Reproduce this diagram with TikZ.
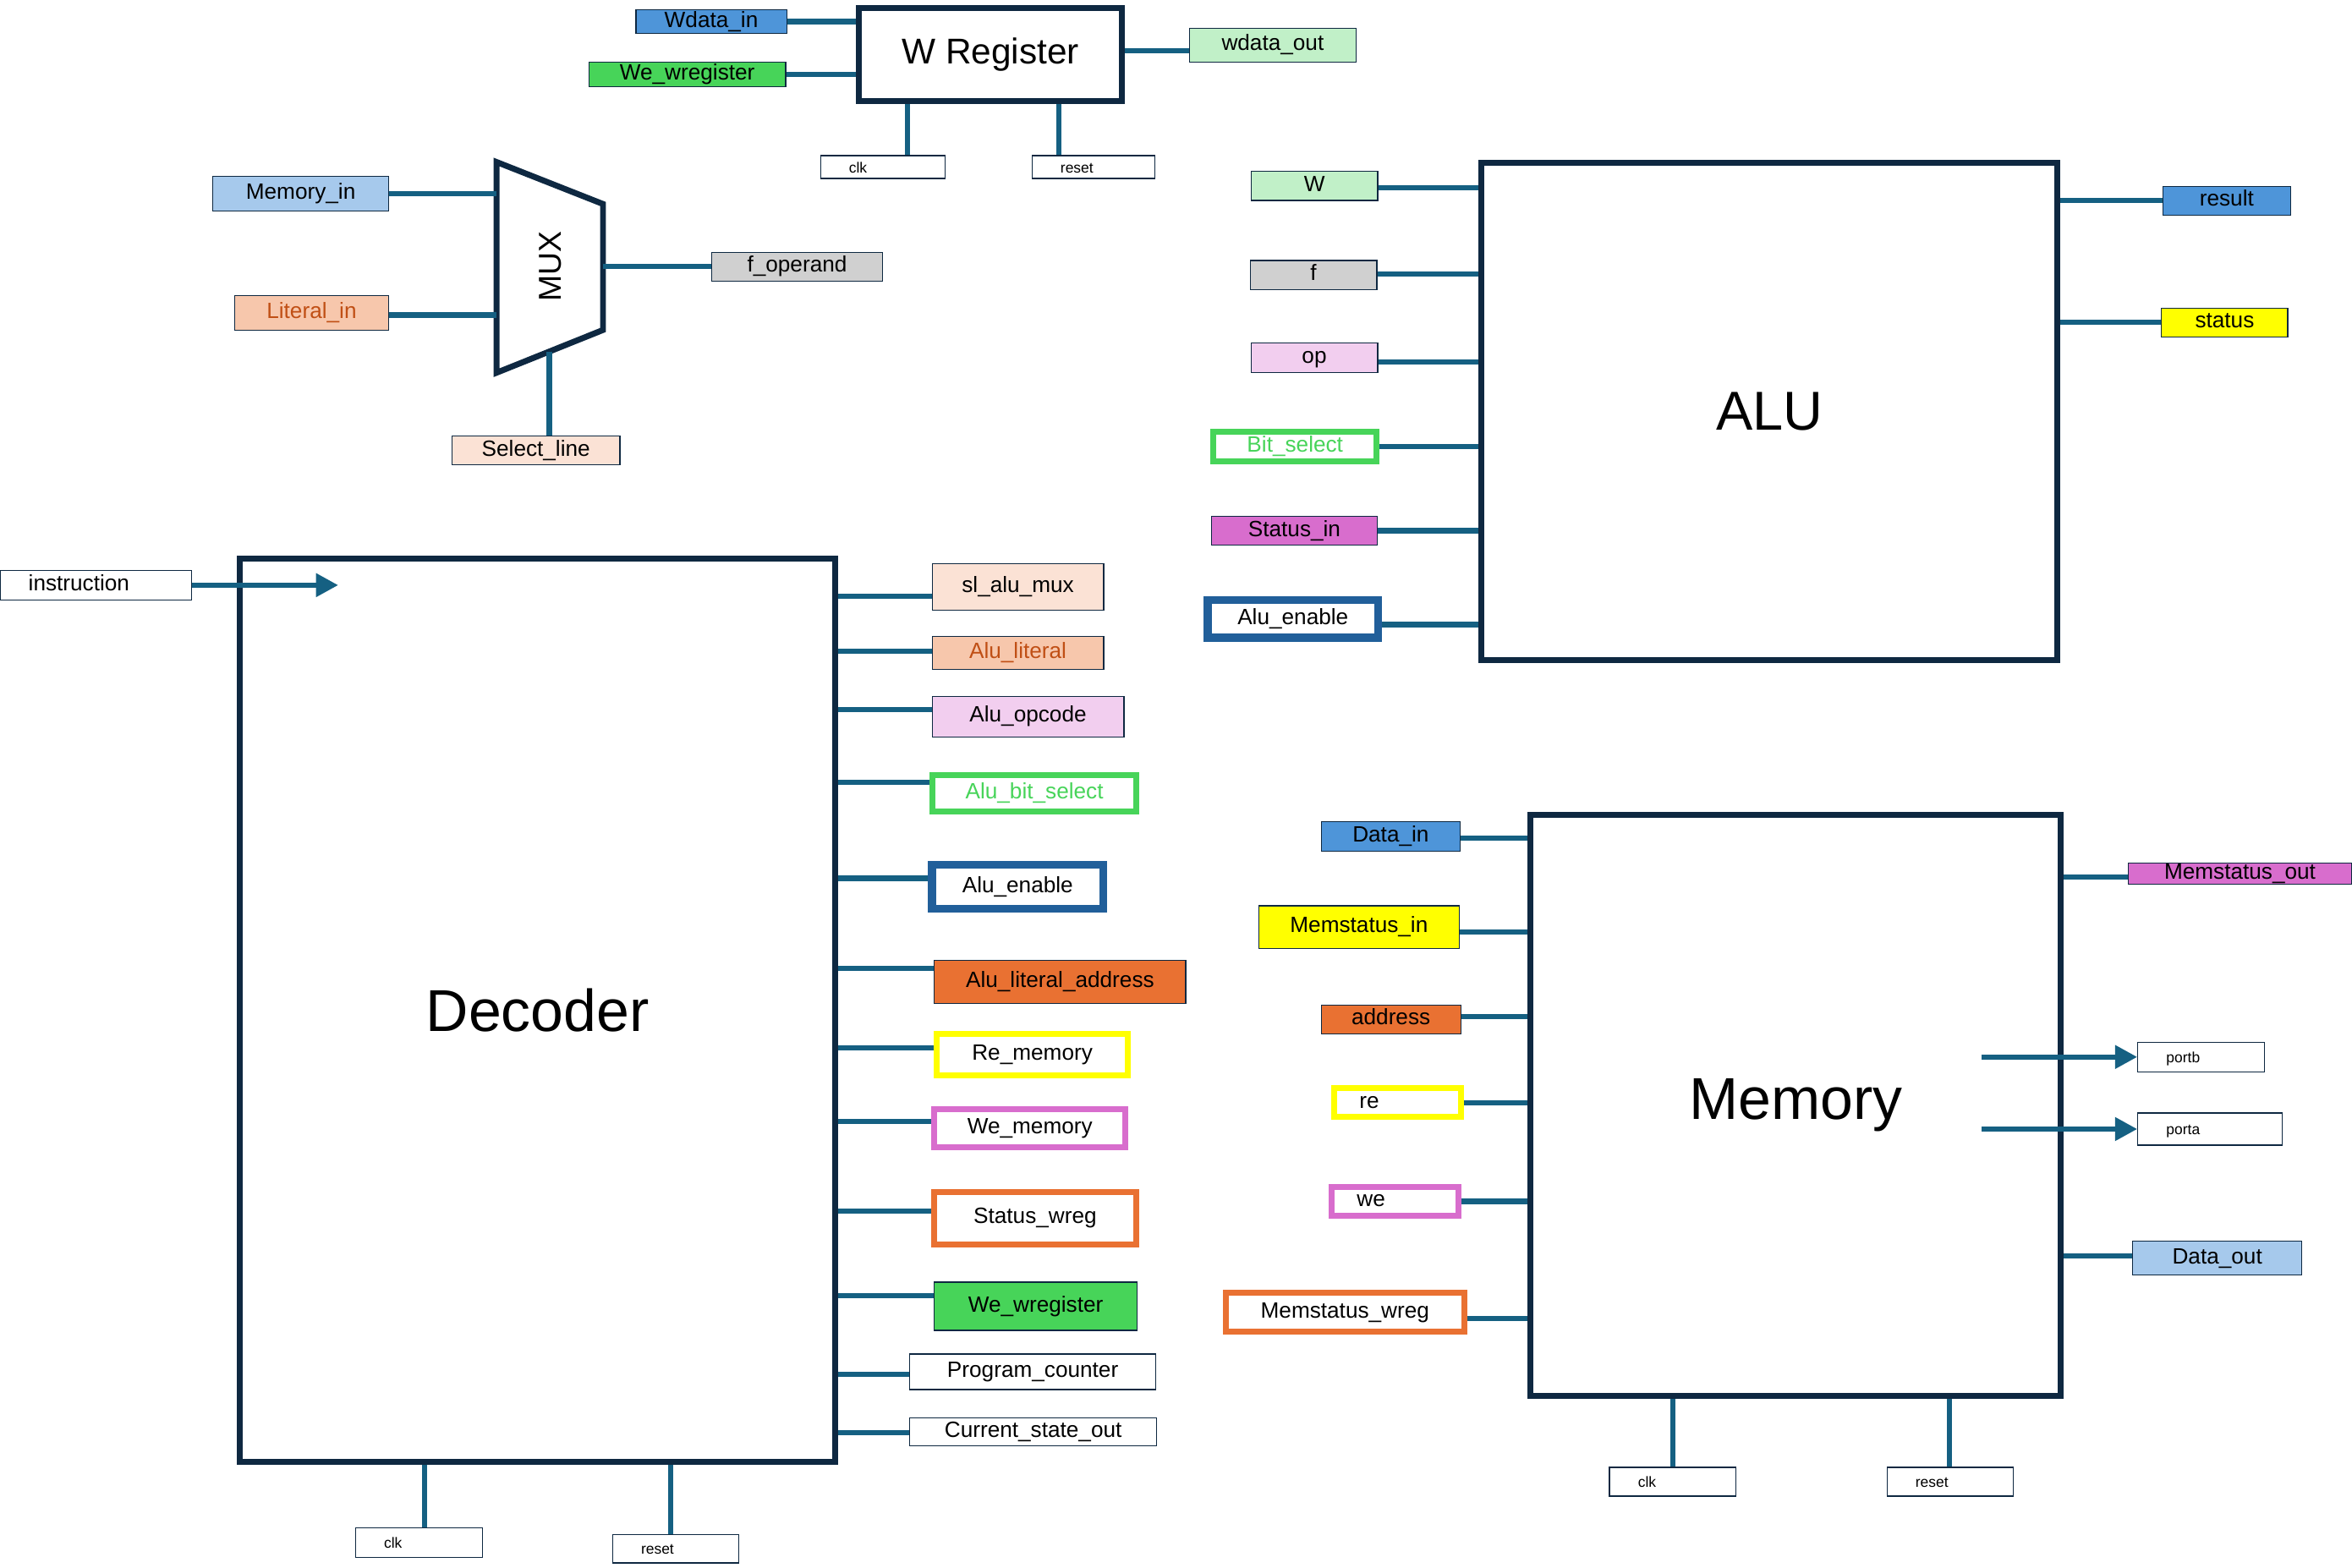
\documentclass[tikz,border=0pt]{standalone}
\usepackage{fontspec}
\setmainfont{Liberation Sans}
\usetikzlibrary{arrows.meta}

\definecolor{boxc}{HTML}{0E2841}
\definecolor{wirec}{HTML}{156082}
\definecolor{blu}{HTML}{4E95D9}
\definecolor{ltblu}{HTML}{A6C9EC}
\definecolor{enblu}{HTML}{215F9A}
\definecolor{grn}{HTML}{47D459}
\definecolor{ltgrn}{HTML}{C1F0C8}
\definecolor{gry}{HTML}{D0D0D0}
\definecolor{pnk}{HTML}{F2CEEF}
\definecolor{mag}{HTML}{D86DCD}
\definecolor{pch}{HTML}{F7C7AC}
\definecolor{ltpch}{HTML}{FBE2D5}
\definecolor{org}{HTML}{E97132}
\definecolor{dkorg}{HTML}{C04F15}
\definecolor{ylw}{HTML}{FFFF00}

\newcommand{\lblfont}{\fontsize{10.5}{12}\selectfont}
\newcommand{\tinyfont}{\fontsize{7}{8}\selectfont}
\newcommand{\bigfont}{\fontsize{28}{32}\selectfont}

\tikzset{
  blk/.style={draw=boxc,line width=2.8pt,inner sep=0pt},
  wire/.style={draw=wirec,line width=2.5pt},
  arr/.style={wire,-{Triangle[length=3.7mm,width=3.75mm]}},
  sz/.style 2 args={minimum width=#1*0.25mm,minimum height=#2*0.25mm},
  sig/.style={draw=boxc,line width=0.5pt,inner sep=0pt,font=\lblfont,
    text height=0.72em,text depth=0.2em},
  sigthk/.style={sig,fill=white,line width=2.8pt},
  tagl/.style={draw=boxc,line width=0.5pt,fill=white,inner ysep=0pt,
    inner xsep=4.75mm,align=left,text width=#1,text height=0.72em,text depth=0.2em},
}

\begin{document}
\begin{tikzpicture}[x=0.25mm,y=-0.25mm]
    \useasboundingbox (0,0) rectangle (1568,1044.8);

    %% W register
    \node (wreg) at (660.4,36.3) [blk,sz={175.3}{62},font=\fontsize{17}{20}\selectfont] {W Register};
    \node (wdin) at (474.2,14.4) [sig,fill=blu,sz={100.5}{15.6}] {Wdata\_in};
    \node (wewr) at (458.2,49.6) [sig,fill=grn,sz={131.2}{16.3}] {We\_wregister};
    \node (wdout) at (848.5,30.1) [sig,fill=ltgrn,sz={110.9}{22.6}] {wdata\_out};
    \node (wclk) at (588.5,111.4) [tagl=11.25mm,font=\tinyfont,minimum height=15.2*0.25mm] {clk};
    \node (wrst) at (729,111.4) [tagl=11mm,font=\tinyfont,minimum height=15.2*0.25mm] {reset};

    \draw[wire] (wdin.east) -- (wdin.east -| wreg.west);
    \draw[wire] (wewr.east) -- (wewr.east -| wreg.west);
    \draw[wire] (wreg.east |- 0,33.8) -- (wdout.west |- 0,33.8);
    \draw[wire] (wreg.south -| 605,0) -- (wclk.north -| 605,0);
    \draw[wire] (wreg.south -| 706,0) -- (wrst.north -| 706,0);

    %% MUX
    \coordinate (mtl) at (331,108);
    \coordinate (mtr) at (402,136);
    \coordinate (mbr) at (402,220);
    \coordinate (mbl) at (331,248.5);
    \coordinate (msel) at (366.2,234.4);
    \draw[boxc,line width=2.8pt] (mtl) -- (mtr) -- (mbr) -- (mbl) -- cycle;
    \node (muxt) at (366.8,177.8) [rotate=90,font=\fontsize{15}{18}\selectfont] {MUX};

    \node (memin) at (200.5,129) [sig,fill=ltblu,sz={117}{23.1}] {Memory\_in};
    \node (litin) at (207.75,208.5) [sig,fill=pch,text=dkorg,sz={102.5}{23}] {Literal\_in};
    \node (fop) at (531.4,177.8) [sig,fill=gry,sz={114}{19.2}] {f\_operand};
    \node (sel) at (357.3,300.35) [sig,fill=ltpch,sz={112}{19.3}] {Select\_line};

    \draw[wire] (memin.east) -- (memin.east -| mtl);
    \draw[wire] (litin.east |- 0,210) -- (mtl |- 0,210);
    \draw[wire] (fop.west) -- (fop.west -| mtr);
    \draw[wire] (msel) -- (msel |- sel.north);

    %% ALU
    \node (alu) at (1179.55,274.4) [blk,sz={384.3}{331.2},font=\fontsize{26}{30}\selectfont] {ALU};
    \node (aw) at (876.35,123.95) [sig,fill=ltgrn,sz={84.1}{19.5}] {W};
    \node (af) at (875.65,183.35) [sig,fill=gry,sz={84.5}{19.5}] {f};
    \node (aop) at (876.2,238.45) [sig,fill=pnk,sz={84.4}{19.5}] {op};
    \node (bsel) at (863.35,297.65) [sigthk,draw=grn,text=grn,sz={108.9}{19.5}] {Bit\_select};
    \node (stin) at (862.9,353.85) [sig,fill=mag,sz={110.2}{19.1}] {Status\_in};
    \node (aen) at (861.95,412.7) [sigthk,draw=enblu,line width=3.9pt,sz={113.7}{25.2}] {Alu\_enable};
    \node (res) at (1484.45,133.8) [sig,fill=blu,sz={84.9}{19.2}] {result};
    \node (stat) at (1483.1,214.95) [sig,fill=ylw,sz={84.2}{19.1}] {status};

    \draw[wire] (aw.east |- 0,125.2) -- (alu.west |- 0,125.2);
    \draw[wire] (af.east |- 0,182.7) -- (alu.west |- 0,182.7);
    \draw[wire] (aop.east |- 0,241.4) -- (alu.west |- 0,241.4);
    \draw[wire] (bsel.east) -- (bsel.east -| alu.west);
    \draw[wire] (stin.east) -- (stin.east -| alu.west);
    \draw[wire] (aen.east |- 0,416.4) -- (alu.west |- 0,416.4);
    \draw[wire] (alu.east |- res.west) -- (res.west);
    \draw[wire] (alu.east |- stat.west) -- (stat.west);

    %% Decoder
    \node (dec) at (358.35,673.45) [blk,sz={397.3}{601.9},font=\bigfont] {Decoder};
    \node (inst) at (63.9,390.1) [tagl=22.45mm,font=\lblfont,minimum height=19.8*0.25mm] {instruction};
    \coordinate (itip) at (inst.east -| 225.5,0);
    \draw[arr] (inst.east) -- (itip);

    %% decoder outputs
    \node (slm) at (678.6,391.2) [sig,fill=ltpch,sz={114.4}{31}] {sl\_alu\_mux};
    \node (alit) at (678.6,435.15) [sig,fill=pch,text=dkorg,sz={114.4}{21.9}] {Alu\_literal};
    \node (aopc) at (685.35,477.75) [sig,fill=pnk,sz={127.9}{26.9}] {Alu\_opcode};
    \node (abs) at (689.6,529) [sigthk,draw=grn,text=grn,sz={136.2}{24.4}] {Alu\_bit\_select};
    \node (den) at (678.45,591.2) [sigthk,draw=enblu,line width=3.9pt,sz={114.2}{29.3}] {Alu\_enable};
    \node (ala) at (706.7,654.6) [sig,fill=org,sz={167.6}{28.6}] {Alu\_literal\_address};
    \node (rem) at (688.2,703.1) [sigthk,draw=ylw,sz={127.6}{27.6}] {Re\_memory};
    \node (wem) at (686.6,752.15) [sigthk,draw=mag,sz={127.6}{25.3}] {We\_memory};
    \node (swr) at (690.05,812.05) [sigthk,draw=org,sz={134.5}{34.9}] {Status\_wreg};
    \node (wew) at (690.45,870.85) [sig,fill=grn,sz={135.1}{32.1}] {We\_wregister};
    \node (pc) at (688.5,914.55) [sig,fill=white,sz={163.8}{23.7}] {Program\_counter};
    \node (cso) at (688.8,954.6) [sig,fill=white,sz={164.4}{18.8}] {Current\_state\_out};

    \draw[wire] (dec.east |- 0,397.6) -- (slm.west |- 0,397.6);
    \draw[wire] (dec.east |- 0,434.3) -- (alit.west |- 0,434.3);
    \draw[wire] (dec.east |- 0,473.1) -- (aopc.west |- 0,473.1);
    \draw[wire] (dec.east |- 0,521.4) -- (abs.west |- 0,521.4);
    \draw[wire] (dec.east |- 0,585.5) -- (den.west |- 0,585.5);
    \draw[wire] (dec.east |- 0,645.7) -- (ala.west |- 0,645.7);
    \draw[wire] (dec.east |- 0,698.6) -- (rem.west |- 0,698.6);
    \draw[wire] (dec.east |- 0,747.5) -- (wem.west |- 0,747.5);
    \draw[wire] (dec.east |- 0,807.4) -- (swr.west |- 0,807.4);
    \draw[wire] (dec.east |- 0,863.6) -- (wew.west |- 0,863.6);
    \draw[wire] (dec.east |- 0,916) -- (pc.west |- 0,916);
    \draw[wire] (dec.east |- 0,955) -- (cso.west |- 0,955);

    %% decoder clk/reset
    \node (dclk) at (279.25,1028.25) [tagl=11.625mm,font=\tinyfont,minimum height=19.7*0.25mm] {clk};
    \node (drst) at (450.4,1032.45) [tagl=11.5mm,font=\tinyfont,minimum height=19.1*0.25mm] {reset};
    \draw[wire] (dec.south -| 283.2,0) -- (dclk.north -| 283.2,0);
    \draw[wire] (dec.south -| 447.3,0) -- (drst.north -| 447.3,0);

    %% Memory
    \node (mem) at (1197.15,736.75) [blk,sz={353.7}{387.5},font=\bigfont] {Memory};
    \node (din) at (927.15,557.45) [sig,fill=blu,sz={92.7}{19.7}] {Data\_in};
    \node (msin) at (906,618.05) [sig,fill=ylw,sz={133.8}{28.3}] {Memstatus\_in};
    \node (addr) at (927.3,679.55) [sig,fill=org,sz={93}{19.1}] {address};
    \node (re) at (931.6,735.05) [tagl=12.65mm,inner xsep=4.25mm,draw=ylw,line width=2.8pt,font=\lblfont,minimum height=19.1*0.25mm] {re};
    \node (we) at (929.9,800.9) [tagl=12.65mm,inner xsep=4.25mm,draw=mag,line width=2.8pt,font=\lblfont,minimum height=19.2*0.25mm] {we};
    \node (mswr) at (896.65,875) [sigthk,draw=org,sz={158.8}{25.9}] {Memstatus\_wreg};

    \draw[wire] (din.east |- 0,558.6) -- (mem.west |- 0,558.6);
    \draw[wire] (msin.east |- 0,621.2) -- (mem.west |- 0,621.2);
    \draw[wire] (addr.east |- 0,677.8) -- (mem.west |- 0,677.8);
    \draw[wire] (re.east) -- (re.east -| mem.west);
    \draw[wire] (we.east) -- (we.east -| mem.west);
    \draw[wire] (mswr.east |- 0,879.1) -- (mem.west |- 0,879.1);

    %% memory outputs
    \node (msout) at (1493.3,582.25) [sig,fill=mag,sz={148.6}{14.1}] {Memstatus\_out};
    \node (portb) at (1467.5,704.65) [tagl=11.65mm,font=\tinyfont,minimum height=19.7*0.25mm] {portb};
    \node (porta) at (1473.4,752.7) [tagl=14.6mm,font=\tinyfont,minimum height=21.4*0.25mm] {porta};
    \node (dout) at (1478.15,838.7) [sig,fill=ltblu,sz={112.7}{22.2}] {Data\_out};
    \coordinate (pbsrc) at (portb.west -| 1321.3,0);
    \coordinate (pasrc) at (porta.west -| 1321.3,0);

    \draw[wire] (mem.east |- 0,584.6) -- (msout.west |- 0,584.6);
    \draw[arr] (pbsrc) -- (portb.west);
    \draw[arr] (pasrc) -- (porta.west);
    \draw[wire] (mem.east |- 0,837.3) -- (dout.west |- 0,837.3);

    %% memory clk/reset
    \node (mclk) at (1115.2,987.8) [tagl=11.6mm,font=\tinyfont,minimum height=19.2*0.25mm] {clk};
    \node (mrst) at (1300,987.8) [tagl=11.5mm,font=\tinyfont,minimum height=19.2*0.25mm] {reset};
    \draw[wire] (mem.south -| mclk.north) -- (mclk.north);
    \draw[wire] (mem.south -| 1299.5,0) -- (mrst.north -| 1299.5,0);
\end{tikzpicture}
\end{document}
